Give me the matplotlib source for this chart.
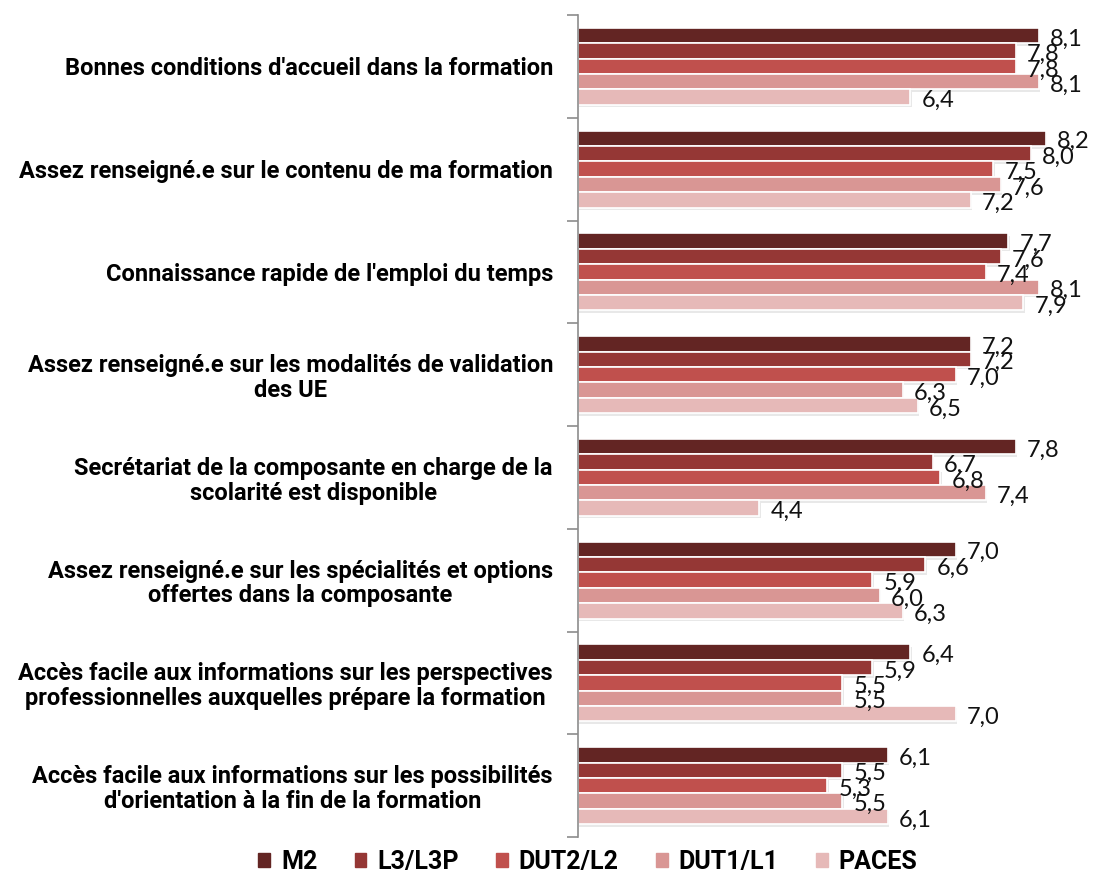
import numpy as np
import matplotlib
matplotlib.use("Agg")
import matplotlib.pyplot as plt
from matplotlib.patches import Patch
from matplotlib import patheffects as pe

categories = [
    "Bonnes conditions d'accueil dans la formation",
    "Assez renseigné.e sur le contenu de ma formation",
    "Connaissance rapide de l'emploi du temps",
    "Assez renseigné.e sur les modalités de validation\ndes UE",
    "Secrétariat de la composante en charge de la\nscolarité est disponible",
    "Assez renseigné.e sur les spécialités et options\noffertes dans la composante",
    "Accès facile aux informations sur les perspectives\nprofessionnelles auxquelles prépare la formation",
    "Accès facile aux informations sur les possibilités\nd'orientation à la fin de la formation",
]
series = ["M2", "L3/L3P", "DUT2/L2", "DUT1/L1", "PACES"]
m2 = [8.1, 8.2, 7.7, 7.2, 7.8, 7.0, 6.4, 6.1]
l3 = [7.8, 8.0, 7.6, 7.2, 6.7, 6.6, 5.9, 5.5]
dut2 = [7.8, 7.5, 7.4, 7.0, 6.8, 5.9, 5.5, 5.3]
dut1 = [8.1, 7.6, 8.1, 6.3, 7.4, 6.0, 5.5, 5.5]
paces = [6.4, 7.2, 7.9, 6.5, 4.4, 6.3, 7.0, 6.1]
values = [m2, l3, dut2, dut1, paces]
colors = ["#632523", "#953735", "#C0504D", "#D99694", "#E6B9B8"]

fig = plt.figure(figsize=(10.98, 8.74), dpi=100)
ax = fig.add_axes([578 / 1098, 1 - 837 / 874, 1 - 578 / 1098, (837 - 15) / 874])

n = len(series)
h = 0.15
y = np.arange(len(categories))
# soft drop shadow like the office chart
shadow = [pe.SimplePatchShadow(offset=(1.0, -1.8), shadow_rgbFace="0.6", alpha=0.22), pe.Normal()]
for i, (name, vals, c) in enumerate(zip(series, values, colors)):
    pos = y + (i - (n - 1) / 2) * h
    bars = ax.barh(pos, np.array(vals) - 2, left=2, height=h, color=c,
                   edgecolor="white", linewidth=1.2, label=name)
    for b in bars:
        b.set_path_effects(shadow)
    for p, v in zip(pos, vals):
        ax.annotate(f"{v:.1f}".replace(".", ","), (v, p), xytext=(8, -2.5),
                    textcoords="offset points", ha="left", va="center",
                    fontsize=17, family="Lato", color="#111111",
                    annotation_clip=False)

ax.set_xlim(2, 2 + (1098 - 578) / 75.5)
ax.set_ylim(len(categories) - 0.5, -0.5)
ax.set_yticks(np.arange(len(categories) + 1) - 0.5)
ax.set_yticklabels([])
ax.set_yticks(y, minor=True)
ax.set_yticklabels(categories, minor=True, fontsize=17, fontweight="bold",
                   family="Roboto", multialignment="center", linespacing=1.1)
ax.tick_params(axis="y", which="major", length=8, width=1.2, color="#8c8c8c")
ax.tick_params(axis="y", which="minor", length=0, pad=18)
ax.set_xticks([])
for s in ["top", "right", "bottom"]:
    ax.spines[s].set_visible(False)
ax.spines["left"].set_color("#8c8c8c")
ax.spines["left"].set_linewidth(1.2)

handles = [Patch(color=c, label=s) for s, c in zip(series, colors)]
fig.legend(handles=handles, loc="center", bbox_to_anchor=(588 / 1098, 1 - 862 / 874),
           ncol=5, frameon=False, handlelength=0.45, handleheight=0.45,
           handletextpad=0.45, columnspacing=1.5,
           prop={"family": "Roboto", "weight": "bold", "size": 18})

fig.savefig("out.png", dpi=100)
